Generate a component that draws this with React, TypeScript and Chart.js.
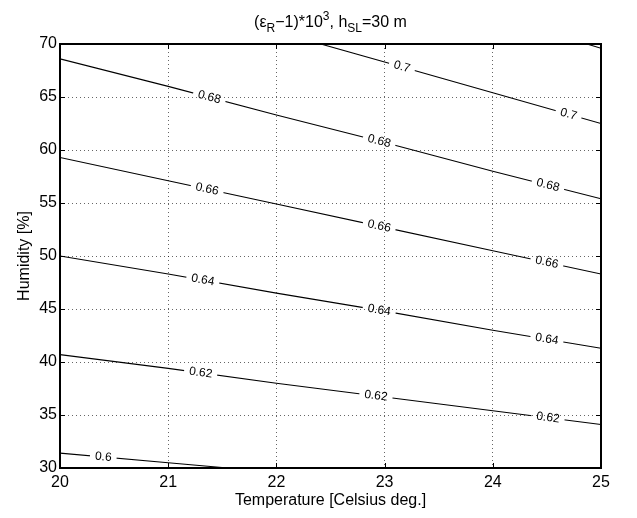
import React, { useEffect, useRef } from "react";
import { Chart, registerables } from "chart.js";

Chart.register(...registerables);

const FONT = '"Liberation Sans", Arial, Helvetica, sans-serif';

// Axis ranges / ticks
const X_MIN = 20;
const X_MAX = 25;
const Y_MIN = 30;
const Y_MAX = 70;
const X_STEP = 1;
const Y_STEP = 5;

// Contour levels
const LEVELS = ["0.6", "0.62", "0.64", "0.66", "0.68", "0.7", "0.72"];

// Contour lines (temperature, humidity)
const C060_X = [20, 21, 21.55];
const C060_Y = [31.4, 30.5, 30];
const C062_X = [20, 21, 22, 23, 24, 25];
const C062_Y = [40.7, 39.4, 38.0, 36.7, 35.4, 34.1];
const C064_X = [20, 21, 22, 23, 24, 25];
const C064_Y = [50.0, 48.3, 46.5, 44.8, 43.0, 41.3];
const C066_X = [20, 21, 22, 23, 24, 25];
const C066_Y = [59.3, 57.1, 54.9, 52.7, 50.5, 48.3];
const C068_X = [20, 21, 22, 23, 24, 25];
const C068_Y = [68.6, 66.0, 63.3, 60.7, 58.0, 55.4];
const C070_X = [22.41, 23, 24, 25];
const C070_Y = [70, 68.3, 65.4, 62.5];
const C072_X = [24.87, 25];
const C072_Y = [70, 69.6];

const CONTOUR_X = [C060_X, C062_X, C064_X, C066_X, C068_X, C070_X, C072_X];
const CONTOUR_Y = [C060_Y, C062_Y, C064_Y, C066_Y, C068_Y, C070_Y, C072_Y];

// Temperatures where the inline contour labels sit
const LABEL_X = [
  [20.4],
  [21.3, 22.92, 24.51],
  [21.32, 22.95, 24.5],
  [21.36, 22.95, 24.5],
  [21.38, 22.95, 24.51],
  [23.16, 24.7],
  [],
];

type LabelBox = { x: number; y: number; a: number; w: number; h: number; text: string };

const LABEL_FONT = `12px ${FONT}`;
const AXIS_FONT_SIZE = 16;

function computeLabels(chart: any): LabelBox[] {
  const ctx = chart.ctx as CanvasRenderingContext2D;
  const xs = chart.scales.x;
  const out: LabelBox[] = [];
  ctx.save();
  ctx.font = LABEL_FONT;
  LABEL_X.forEach((list, i) => {
    const meta = chart.getDatasetMeta(i);
    const pts = meta.data as any[];
    list.forEach((lx) => {
      const px = xs.getPixelForValue(lx);
      for (let j = 0; j < pts.length - 1; j++) {
        const p0 = pts[j];
        const p1 = pts[j + 1];
        if (px >= p0.x && px <= p1.x) {
          const t = (px - p0.x) / (p1.x - p0.x);
          const py = p0.y + t * (p1.y - p0.y);
          const a = Math.atan2(p1.y - p0.y, p1.x - p0.x);
          const text = LEVELS[i];
          const w = ctx.measureText(text).width + 10;
          out.push({ x: px, y: py, a, w, h: 14, text });
          break;
        }
      }
    });
  });
  ctx.restore();
  return out;
}

const contourLabelPlugin = {
  id: "contourLabels",
  beforeDatasetsDraw(chart: any) {
    const ctx = chart.ctx as CanvasRenderingContext2D;
    const boxes = computeLabels(chart);
    chart.$contourLabels = boxes;
    ctx.save();
    ctx.beginPath();
    ctx.rect(0, 0, chart.width, chart.height);
    for (const b of boxes) {
      const c = Math.cos(b.a);
      const s = Math.sin(b.a);
      const hw = b.w / 2;
      const hh = b.h / 2;
      const corners = [
        [-hw, -hh],
        [hw, -hh],
        [hw, hh],
        [-hw, hh],
      ].map(([u, v]) => [b.x + u * c - v * s, b.y + u * s + v * c]);
      ctx.moveTo(corners[0][0], corners[0][1]);
      for (let k = 1; k < 4; k++) ctx.lineTo(corners[k][0], corners[k][1]);
      ctx.closePath();
    }
    ctx.clip("evenodd");
  },
  afterDatasetsDraw(chart: any) {
    const ctx = chart.ctx as CanvasRenderingContext2D;
    ctx.restore();
    ctx.save();
    ctx.font = LABEL_FONT;
    ctx.fillStyle = "#000";
    ctx.textAlign = "center";
    ctx.textBaseline = "middle";
    for (const b of chart.$contourLabels || []) {
      ctx.save();
      ctx.translate(b.x, b.y);
      ctx.rotate(b.a);
      ctx.fillText(b.text, 0, 0);
      ctx.restore();
    }
    ctx.restore();
  },
};

const frameAndTitlePlugin = {
  id: "frameAndTitle",
  afterDraw(chart: any) {
    const ctx = chart.ctx as CanvasRenderingContext2D;
    const { left, right, top, bottom } = chart.chartArea;
    const xs = chart.scales.x;
    const ys = chart.scales.y;
    ctx.save();
    // inward tick marks on all four sides
    ctx.strokeStyle = "#000";
    ctx.lineWidth = 1;
    const TL = 5;
    ctx.beginPath();
    for (let v = X_MIN; v <= X_MAX; v += X_STEP) {
      const px = Math.round(xs.getPixelForValue(v)) + 0.5;
      ctx.moveTo(px, bottom);
      ctx.lineTo(px, bottom - TL);
      ctx.moveTo(px, top);
      ctx.lineTo(px, top + TL);
    }
    for (let v = Y_MIN; v <= Y_MAX; v += Y_STEP) {
      const py = Math.round(ys.getPixelForValue(v)) + 0.5;
      ctx.moveTo(left, py);
      ctx.lineTo(left + TL, py);
      ctx.moveTo(right, py);
      ctx.lineTo(right - TL, py);
    }
    ctx.stroke();
    // box
    ctx.lineWidth = 2;
    ctx.strokeRect(Math.round(left), Math.round(top), Math.round(right - left), Math.round(bottom - top));

    // title with sub/superscripts
    const parts: { t: string; size: number; dy: number }[] = [
      { t: "(\u03b5", size: 16, dy: 0 },
      { t: "R", size: 12, dy: 5 },
      { t: "\u22121)*10", size: 16, dy: 0 },
      { t: "3", size: 12, dy: -7 },
      { t: ", h", size: 16, dy: 0 },
      { t: "SL", size: 12, dy: 5 },
      { t: "=30 m", size: 16, dy: 0 },
    ];
    let total = 0;
    const widths = parts.map((p) => {
      ctx.font = `${p.size}px ${FONT}`;
      const w = ctx.measureText(p.t).width;
      total += w;
      return w;
    });
    let x = (left + right) / 2 - total / 2;
    const baseY = 27;
    ctx.fillStyle = "#000";
    ctx.textAlign = "left";
    ctx.textBaseline = "alphabetic";
    parts.forEach((p, i) => {
      ctx.font = `${p.size}px ${FONT}`;
      ctx.fillText(p.t, x, baseY + p.dy);
      x += widths[i];
    });
    ctx.restore();
  },
};

export default function App() {
  const ref = useRef<HTMLCanvasElement | null>(null);

  useEffect(() => {
    if (!ref.current) return;
    const datasets = CONTOUR_X.map((xsArr, i) => ({
      label: LEVELS[i],
      data: xsArr.map((xv, k) => ({ x: xv, y: CONTOUR_Y[i][k] })),
      borderColor: "#000",
      borderWidth: 1.1,
      pointRadius: 0,
      showLine: true,
      tension: 0,
      fill: false,
    }));
    const chart = new Chart(ref.current, {
      type: "line",
      data: { datasets },
      options: {
        animation: false,
        responsive: false,
        maintainAspectRatio: false,
        layout: { padding: { left: 0, right: 36, top: 44, bottom: 0 } },
        plugins: {
          legend: { display: false },
          tooltip: { enabled: false },
          title: { display: false },
        },
        scales: {
          x: {
            type: "linear",
            min: X_MIN,
            max: X_MAX,
            position: "bottom",
            ticks: {
              stepSize: X_STEP,
              color: "#000",
              font: { size: AXIS_FONT_SIZE, family: FONT },
              padding: 5,
              maxRotation: 0,
            },
            grid: { color: "rgba(0,0,0,0.6)", lineWidth: 1, drawTicks: false },
            border: { display: false, dash: [1, 3] },
            title: {
              display: true,
              text: "Temperature [Celsius deg.]",
              color: "#000",
              font: { size: AXIS_FONT_SIZE, family: FONT },
              padding: { top: 0, bottom: 8 },
            },
            afterFit: (s: any) => {
              s.height = 50;
            },
          },
          y: {
            type: "linear",
            min: Y_MIN,
            max: Y_MAX,
            position: "left",
            ticks: {
              stepSize: Y_STEP,
              color: "#000",
              font: { size: AXIS_FONT_SIZE, family: FONT },
              padding: 3,
            },
            grid: { color: "rgba(0,0,0,0.6)", lineWidth: 1, drawTicks: false },
            border: { display: false, dash: [1, 3] },
            title: {
              display: true,
              text: "Humidity [%]",
              color: "#000",
              font: { size: AXIS_FONT_SIZE, family: FONT },
              padding: { top: 15, bottom: 0 },
            },
            afterFit: (s: any) => {
              s.width = 60;
            },
          },
        },
      } as any,
      plugins: [contourLabelPlugin, frameAndTitlePlugin],
    });
    return () => chart.destroy();
  }, []);

  return (
    <div style={{ position: "absolute", left: 0, top: 0, width: 637, height: 518, background: "#fff" }}>
      <canvas ref={ref} width={637} height={518} />
    </div>
  );
}
